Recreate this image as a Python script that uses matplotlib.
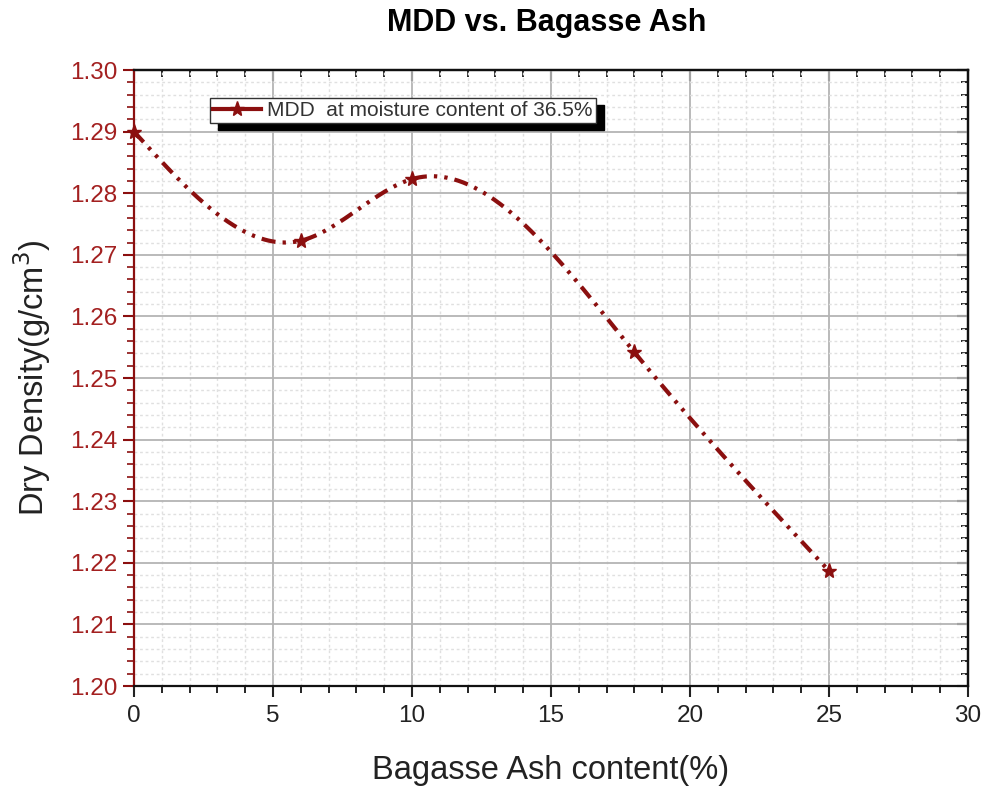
import numpy as np
import matplotlib
matplotlib.use("Agg")
import matplotlib.pyplot as plt
from matplotlib.lines import Line2D
from matplotlib.ticker import MultipleLocator, FormatStrFormatter

plt.rcParams['font.family'] = ['Liberation Sans', 'DejaVu Sans']

# MDD values for each ash content
ash = [0, 6, 10, 18, 25]
mdd = [1.290, 1.2723, 1.2823, 1.2542, 1.2187]

red = '#8b0f0f'
lbl_red = '#a32020'


# natural cubic spline for the smooth connecting curve
def natural_spline(x, y, xs):
    x = np.asarray(x, float)
    y = np.asarray(y, float)
    n = len(x)
    h = np.diff(x)
    A = np.zeros((n, n))
    b = np.zeros(n)
    A[0, 0] = 1
    A[-1, -1] = 1
    for i in range(1, n - 1):
        A[i, i - 1] = h[i - 1]
        A[i, i] = 2 * (h[i - 1] + h[i])
        A[i, i + 1] = h[i]
        b[i] = 6 * ((y[i + 1] - y[i]) / h[i] - (y[i] - y[i - 1]) / h[i - 1])
    M = np.linalg.solve(A, b)
    ys = np.empty_like(xs)
    for k, t in enumerate(xs):
        i = min(max(np.searchsorted(x, t) - 1, 0), n - 2)
        dx1 = x[i + 1] - t
        dx0 = t - x[i]
        ys[k] = (M[i] * dx1 ** 3 + M[i + 1] * dx0 ** 3) / (6 * h[i]) \
            + (y[i] / h[i] - M[i] * h[i] / 6) * dx1 \
            + (y[i + 1] / h[i] - M[i + 1] * h[i] / 6) * dx0
    return ys


xs = np.linspace(ash[0], ash[-1], 400)
ys = natural_spline(ash, mdd, xs)

fig = plt.figure(figsize=(9.87, 7.87), dpi=100)
ax = fig.add_axes([0.1358, 0.1283, 0.8449, 0.7827])

ax.plot(xs, ys, color=red, lw=3, linestyle=(0, (3.4, 1.7, 0.8, 1.7, 0.8, 1.7)),
        solid_capstyle='butt', dash_capstyle='butt', zorder=3)
ax.plot(ash, mdd, linestyle='none', marker='*', ms=11, color=red, zorder=4,
        clip_on=False)

ax.set_xlim(0, 30)
ax.set_ylim(1.20, 1.30)
ax.xaxis.set_major_locator(MultipleLocator(5))
ax.xaxis.set_minor_locator(MultipleLocator(1))
ax.yaxis.set_major_locator(MultipleLocator(0.01))
ax.yaxis.set_minor_locator(MultipleLocator(0.002))
ax.yaxis.set_major_formatter(FormatStrFormatter('%.2f'))

ax.grid(which='major', color='#b4b4b4', lw=1.3, zorder=0)
ax.grid(which='minor', color='#e0e0e0', lw=1.0, linestyle=(0, (2, 2)), zorder=0)
ax.set_axisbelow(True)

ax.tick_params(axis='x', which='major', direction='out', length=8, width=1.5,
               labelsize=17.5, colors='#222222', pad=6)
ax.tick_params(axis='x', which='minor', direction='out', length=5, width=1.2)
ax.tick_params(axis='y', which='major', direction='out', length=8, width=1.5,
               labelsize=17.5, colors=red, labelcolor=lbl_red, pad=4)
ax.tick_params(axis='y', which='minor', direction='out', length=5, width=1.2,
               colors=red)

for side in ['bottom', 'top', 'right']:
    ax.spines[side].set_linewidth(1.6)
    ax.spines[side].set_color('#111111')
ax.spines['left'].set_linewidth(1.6)
ax.spines['left'].set_color(red)

# inward ticks on the top and right frames
top = ax.secondary_xaxis('top')
top.xaxis.set_major_locator(MultipleLocator(5))
top.xaxis.set_minor_locator(MultipleLocator(1))
top.tick_params(which='major', direction='in', length=8, width=1.5, labeltop=False)
top.tick_params(which='minor', direction='in', length=5, width=1.2)
top.spines['top'].set_linewidth(1.6)
right = ax.secondary_yaxis('right')
right.yaxis.set_major_locator(MultipleLocator(0.01))
right.yaxis.set_minor_locator(MultipleLocator(0.002))
right.tick_params(which='major', direction='in', length=8, width=1.5, labelright=False)
right.tick_params(which='minor', direction='in', length=5, width=1.2)
right.spines['right'].set_linewidth(1.6)

ax.set_xlabel('Bagasse Ash content(%)', fontsize=23.5, color='#222222', labelpad=20)
ax.set_ylabel('Dry Density(g/cm$^3$)', fontsize=23.5, color='#222222', labelpad=12)
fig.text(0.5535, 0.971, 'MDD vs. Bagasse Ash', ha='center', va='center',
         fontsize=22, fontweight='bold',
         family=['Liberation Sans Narrow', 'Liberation Sans'])

handle = Line2D([], [], color=red, lw=3, marker='*', ms=11)
leg = ax.legend([handle], ['MDD  at moisture content of 36.5%'],
                loc='upper left', bbox_to_anchor=(0.091, 0.9545),
                fontsize=15, frameon=True, fancybox=False, borderpad=0.15,
                handlelength=2.3, handletextpad=0.3, borderaxespad=0,
                shadow={'color': 'black', 'alpha': 1, 'ox': 6, 'oy': -5})
leg.get_frame().set_edgecolor('#333333')
leg.get_frame().set_linewidth(1.0)
for t in leg.get_texts():
    t.set_color('#333333')

fig.savefig('out.png', dpi=100)
